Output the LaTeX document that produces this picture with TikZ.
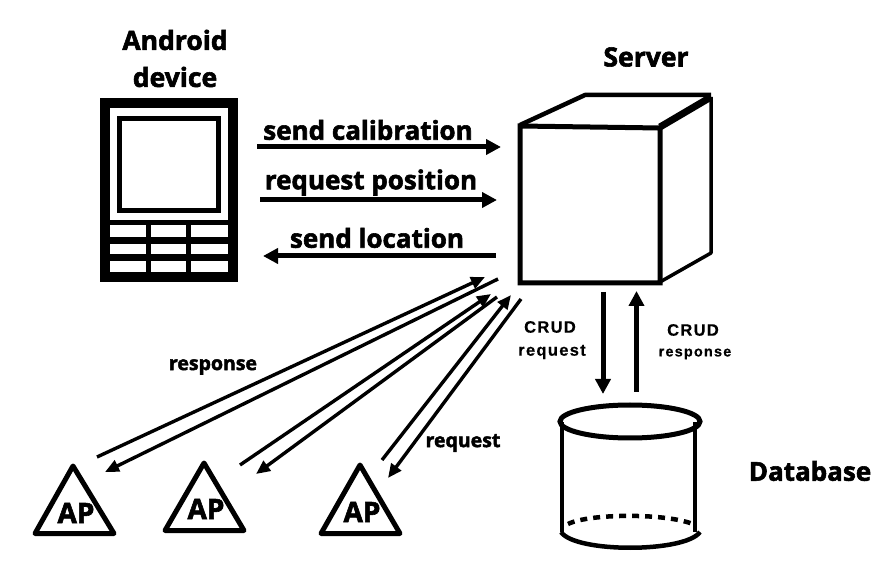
\documentclass[tikz,border=0pt]{standalone}
\usepackage{fontspec}
\setmainfont{Open Sans}[BoldFeatures={FakeBold=2.2}]
\newfontfamily\crudfont{Liberation Sans}[BoldFeatures={FakeBold=0.5},LetterSpace=8]
\usetikzlibrary{arrows.meta}
\tikzset{
  bigarrow/.style={line width=5pt, -{Triangle[length=15pt,width=15pt]}},
  thinarrow/.style={line width=3.4pt, -{Triangle[length=14pt,width=12pt]}},
  title/.style={font=\fontsize{26.5}{26.5}\selectfont\bfseries, inner sep=0pt},
  msg/.style={font=\fontsize{26}{26}\selectfont\bfseries, inner sep=0pt},
  small/.style={font=\fontsize{19.5}{19.5}\selectfont\bfseries, inner sep=0pt},
  crud/.style={font=\fontsize{16.5}{16.5}\selectfont\crudfont\bfseries, inner sep=0pt},
  crudword/.style={font=\fontsize{14.5}{14.5}\selectfont\crudfont\bfseries, inner sep=0pt},
  aptext/.style={font=\fontsize{28}{28}\selectfont\bfseries, inner sep=0pt},
  ap/.style={line width=5pt, line join=round},
  key/.style={fill=white, draw=none}
}
\begin{document}
\begin{tikzpicture}[x=1pt, y=-1pt]
    \useasboundingbox (0,0) rectangle (895,577);

    \node[title] (android) at (175,40){Android};
    \node[title] (device) at (175,77){device};
    \node[title] (server) at (646,57){Server};
    \node[title, font=\fontsize{26}{26}\selectfont\bfseries] (database) at (810,471){Database};

    \fill (100,98) rectangle (238,282);
    \fill[white] (110,108) rectangle (228,220);
    \draw[line width=5pt] (119.5,118.5) rectangle (218.5,210.5);
    \path[key] (110,225) rectangle (146,237);
    \path[key] (151,225) rectangle (186,237);
    \path[key] (191,225) rectangle (228,237);
    \path[key] (110,244) rectangle (146,254);
    \path[key] (151,244) rectangle (186,254);
    \path[key] (191,244) rectangle (228,254);
    \path[key] (110,261) rectangle (146,272);
    \path[key] (151,261) rectangle (186,272);
    \path[key] (191,261) rectangle (228,272);

    \coordinate (calstart) at (257,147);
    \coordinate (calend) at (501,147);
    \coordinate (posstart) at (260,200);
    \coordinate (posend) at (497,200);
    \coordinate (locstart) at (496,256);
    \coordinate (locend) at (263,256);
    \draw[bigarrow] (calstart) -- (calend);
    \draw[bigarrow] (posstart) -- (posend);
    \draw[bigarrow] (locstart) -- (locend);
    \node[msg] (sendcal) at (368,130){send calibration};
    \node[msg] (reqpos) at (371,182.5){request position};
    \node[msg] (sendloc) at (377,238){send location};

    \draw[line width=5pt, line join=miter] (520,126) -- (660,128) -- (660,283) -- (520,283) -- cycle;
    \draw[line width=4.5pt, line join=round] (520,125) -- (585,95) -- (711,95);
    \draw[line width=7pt] (660,127) -- (711,97);
    \draw[line width=3.5pt, line join=round] (711,97) -- (711,253) -- (660,282);

    \coordinate (crudreqstart) at (603,292);
    \coordinate (crudreqend) at (603,394);
    \coordinate (crudresstart) at (636.5,392);
    \coordinate (crudresend) at (636.5,291);
    \draw[bigarrow] (crudreqstart) -- (crudreqend);
    \draw[bigarrow] (crudresstart) -- (crudresend);
    \node[crud] (crudreqa) at (550,327){CRUD};
    \node[crud] (crudreqb) at (552,352){request};
    \node[crud] (crudresa) at (693,330){CRUD};
    \node[crudword] (crudresb) at (695,354){response};

    \draw[line width=4pt] (562,422) -- (562,532);
    \draw[line width=4pt] (695,422) -- (695,532);
    \draw[line width=5pt] (630,421.5) ellipse (70pt and 16.5pt);
    \draw[line width=4.5pt] (561,532) .. controls (575,553) and (685,553) .. (700,532);
    \draw[line width=4.5pt, dash pattern=on 7pt off 6pt] (568,524) .. controls (590,513) and (670,513) .. (695,525);

    \draw[ap] (73,466) -- (114,533.5) -- (35,533.5) -- cycle;
    \draw[ap] (204,463) -- (244,530.5) -- (165,530.5) -- cycle;
    \draw[ap] (360,465) -- (400,533.5) -- (321,533.5) -- cycle;
    \node[aptext] (apa) at (76,513){AP};
    \node[aptext] (apb) at (206,509){AP};
    \node[aptext] (apc) at (362,512){AP};

    \coordinate (resastart) at (97,457);
    \coordinate (resaend) at (485,277);
    \coordinate (reqastart) at (498,279);
    \coordinate (reqaend) at (105,472);
    \coordinate (resbstart) at (240,465);
    \coordinate (resbend) at (491,294);
    \coordinate (reqbstart) at (497,297);
    \coordinate (reqbend) at (256,474);
    \coordinate (rescstart) at (382,460);
    \coordinate (rescend) at (511,295);
    \coordinate (reqcstart) at (521,299);
    \coordinate (reqcend) at (388,478);
    \draw[thinarrow] (resastart) -- (resaend);
    \draw[thinarrow] (reqastart) -- (reqaend);
    \draw[thinarrow] (resbstart) -- (resbend);
    \draw[thinarrow] (reqbstart) -- (reqbend);
    \draw[thinarrow] (rescstart) -- (rescend);
    \draw[thinarrow] (reqcstart) -- (reqcend);
    \node[small] (response) at (213,367){response};
    \node[small] (request) at (463,443){request};

  \end{tikzpicture}
\end{document}
